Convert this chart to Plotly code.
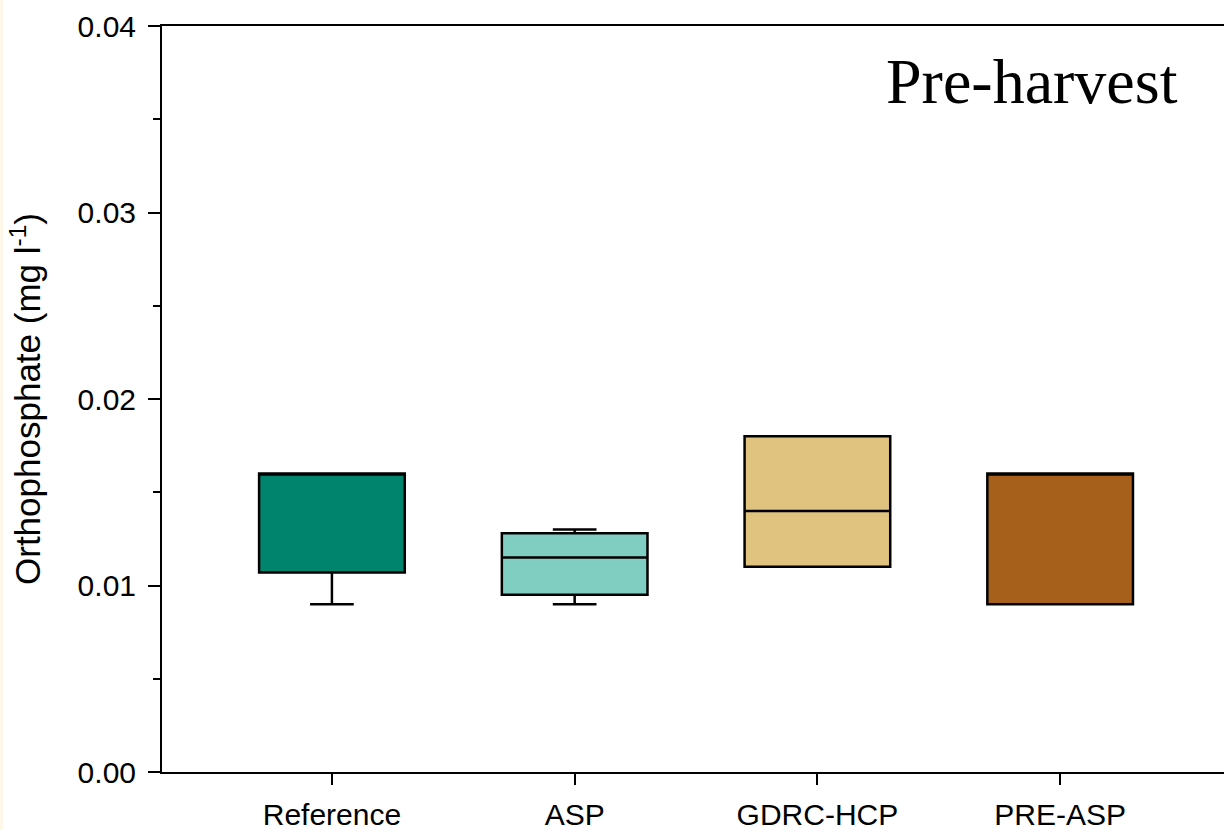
import plotly.graph_objects as go

# box summaries (mg/l)
sites = ['Reference', 'ASP', 'GDRC-HCP', 'PRE-ASP']
q1 = [0.0107, 0.0095, 0.011, 0.009]
median = [0.016, 0.0115, 0.014, 0.016]
q3 = [0.016, 0.0128, 0.018, 0.016]
lower = [0.009, 0.009, 0.011, 0.009]
upper = [0.016, 0.013, 0.018, 0.016]
colors = ['#00846E', '#80CEC2', '#DFC37F', '#A6601C']

fig = go.Figure()
for i, site in enumerate(sites):
    fig.add_trace(go.Box(
        x=[site], q1=[q1[i]], median=[median[i]], q3=[q3[i]],
        lowerfence=[lower[i]], upperfence=[upper[i]],
        fillcolor=colors[i], line=dict(color='black', width=2.5),
        width=0.6, whiskerwidth=0.3, boxpoints=False, showlegend=False,
    ))

tick_font = dict(family='Liberation Sans, Arial', size=30, color='black')

fig.update_layout(
    width=1224, height=830,
    margin=dict(l=162, r=0, t=26, b=58),
    paper_bgcolor='white', plot_bgcolor='white',
    boxmode='overlay',
    font=tick_font,
    xaxis=dict(
        type='category', categoryorder='array', categoryarray=sites,
        range=[-0.7, 3.675],
        showline=True, linecolor='black', linewidth=2, mirror=True,
        ticks='outside', ticklen=11, tickwidth=2, tickcolor='black',
        showgrid=False, tickfont=tick_font, ticklabelstandoff=4,
    ),
    yaxis=dict(
        range=[0, 0.04], tickvals=[0, 0.01, 0.02, 0.03, 0.04], tickformat='.2f',
        showline=True, linecolor='black', linewidth=2,
        ticks='outside', ticklen=12, tickwidth=2, tickcolor='black',
        minor=dict(dtick=0.005, ticks='outside', ticklen=7, tickwidth=2, tickcolor='black'),
        showgrid=False, zeroline=False, tickfont=tick_font, ticklabelstandoff=6,
        title=dict(text='Orthophosphate (mg l<sup>-1</sup>)',
                   font=dict(family='Liberation Sans, Arial', size=35, color='black'),
                   standoff=26),
    ),
    annotations=[dict(
        text='Pre-harvest', xref='paper', yref='paper', x=0.9586, y=0.925,
        xanchor='right', yanchor='middle', showarrow=False,
        font=dict(family='Liberation Serif, Times New Roman', size=64, color='black'),
    )],
    shapes=[dict(type='rect', xref='paper', yref='paper', x0=-0.1525, x1=-0.1497,
                 y0=-0.08, y1=1.04, fillcolor='#FEF6E6', line=dict(width=0), layer='below')],
)

# drop the browser's default body margin so the figure fills the window
fig.write_html('out.html', config={'displayModeBar': False},
               post_script="document.body.style.margin='0px';")
